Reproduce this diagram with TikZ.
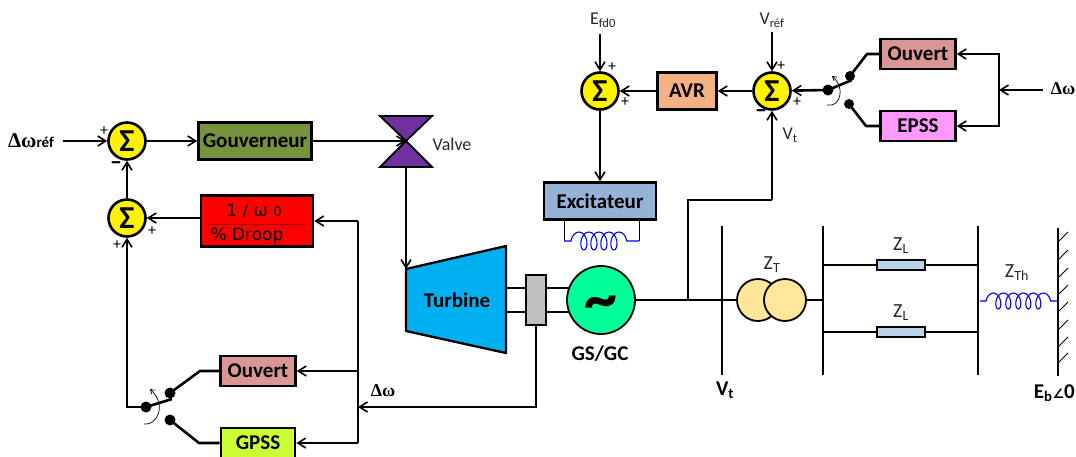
\documentclass[tikz,border=0pt]{standalone}
\usepackage{fontspec}
\setmainfont{Carlito}
\newfontfamily\greekfont{Liberation Serif}
\newfontfamily\anglefont{DejaVu Sans}
\usetikzlibrary{arrows.meta,calc,positioning,shapes,decorations.pathmorphing}
\definecolor{govcolor}{HTML}{76923C}
\definecolor{opencolor}{HTML}{D99694}
\definecolor{avrcolor}{HTML}{F4B183}
\definecolor{epsscolor}{HTML}{FF99FF}
\definecolor{gpsscolor}{HTML}{CCFF33}
\definecolor{exccolor}{HTML}{95B3D7}
\definecolor{turbcolor}{HTML}{00B0F0}
\definecolor{gencolor}{HTML}{00FF99}
\definecolor{tfcolor}{HTML}{FFE699}
\definecolor{linecolor}{HTML}{B9D3EC}
\definecolor{valvecolor}{HTML}{7030A0}
\newcommand{\dw}{{\greekfont\bfseries Δω}}
\tikzset{
	box/.style={draw, line width=2.6pt, inner sep=0pt, font=\fontsize{21}{22}\selectfont\bfseries},
	sumnode/.style={circle, draw, fill=yellow, line width=2.6pt, minimum size=37pt, inner sep=0pt, font=\fontsize{32}{32}\selectfont\bfseries},
	signlabel/.style={inner sep=0pt, font=\fontsize{16}{16}\selectfont},
	minuslabel/.style={inner sep=0pt, font=\fontsize{24}{24}\selectfont\bfseries},
	txt/.style={inner sep=0pt, font=\fontsize{18}{20}\selectfont, text=black!85},
	ztxt/.style={inner sep=0pt, font=\fontsize{20}{20}\selectfont, text=black!85},
	boldtxt/.style={inner sep=0pt, font=\fontsize{21}{22}\selectfont\bfseries},
	contact/.style={circle, fill=black, inner sep=0pt, minimum size=11pt},
	wire/.style={line width=2.6pt},
	flow/.style={line width=2.6pt, -{Straight Barb[length=8pt,width=10pt,line width=1.6pt]}},
	thinwire/.style={line width=1.7pt},
	tfnode/.style={circle, draw, fill=tfcolor, line width=1.8pt, minimum size=42pt},
	zbox/.style={draw, fill=linecolor, line width=1.8pt, minimum width=48pt, minimum height=10pt, inner sep=0pt},
	coilwire/.style={blue, line width=1.1pt, decorate, decoration={coil, aspect=0.6, amplitude=9pt, segment length=10pt}},
	spin/.style={line width=0.7pt, -{Straight Barb[length=4pt,width=5pt]}}
}
\begin{document}
\begin{tikzpicture}[x=1pt,y=-1pt]
	\useasboundingbox (0,0) rectangle (1076,456);
	% Place nodes
	\node [sumnode] (sumgov) at (127,141) {Σ};
	\node [sumnode] (sumdroop) at (127,218) {Σ};
	\node [sumnode] (sumfd) at (600,91) {Σ};
	\node [sumnode] (sumvref) at (772,91) {Σ};
	\node [box, fill=govcolor, minimum width=113pt, minimum height=37pt] (gouverneur) at (255,141) {Gouverneur};
	\node [box, fill=red, minimum width=112pt, minimum height=51pt] (droop) at (257,221) {};
	\node [box, fill=opencolor, minimum width=75pt, minimum height=30pt] (ouvertg) at (258,371) {Ouvert};
	\node [box, fill=gpsscolor, minimum width=74pt, minimum height=30pt] (gpss) at (258,443) {GPSS};
	\node [box, fill=opencolor, minimum width=75pt, minimum height=30pt] (ouverte) at (918,54) {Ouvert};
	\node [box, fill=epsscolor, minimum width=75pt, minimum height=30pt] (epss) at (918,126) {EPSS};
	\node [box, fill=avrcolor, minimum width=59pt, minimum height=37pt] (avr) at (687,91) {AVR};
	\node [box, fill=exccolor, minimum width=112pt, minimum height=37pt] (excitateur) at (600,201) {Excitateur};
	\node [box, fill=black!25, minimum width=20pt, minimum height=50pt] (coupling) at (536,300) {};
	\node [circle, draw, fill=gencolor, line width=1.8pt, minimum size=68pt, inner sep=0pt] (gen) at (601,300) {};
	\node [anchor=base, inner sep=0pt, font=\fontsize{66}{66}\selectfont\bfseries] (tilde) at (601,320) {\textasciitilde};
	\node [tfnode] (tfa) at (758,300) {};
	\node [tfnode] (tfb) at (785,300) {};
	\node [zbox] (zlup) at (901,265) {};
	\node [zbox] (zldown) at (901,332) {};
	% Switch contacts
	\node [contact] (polegov) at (146,407) {};
	\node [contact] (congova) at (170,393) {};
	\node [contact] (congovb) at (170,420) {};
	\node [contact] (poleexc) at (828,90) {};
	\node [contact, minimum size=10pt] (conexca) at (850,76) {};
	\node [contact, minimum size=10pt] (conexcb) at (849,104) {};
	% Texts
	\node [inner sep=0pt, font=\fontsize{21}{21}\selectfont] (dwref) at (31,141) {\dw{\fontsize{15}{15}\selectfont\bfseries réf}};
	\node [inner sep=0pt, font=\fontsize{18}{18}\selectfont] (dwgov) at (383,391) {\dw};
	\node [inner sep=0pt, font=\fontsize{18}{18}\selectfont] (dwexc) at (1063,89) {\dw};
	\node [txt] (valvetxt) at (452,144) {Valve};
	\node [txt] (efd) at (603,20) {E\textsubscript{fd0}};
	\node [txt] (vref) at (772,20) {V\textsubscript{réf}};
	\node [txt] (vtup) at (790,135) {V\textsubscript{t}};
	\node [ztxt] (zt) at (772,265) {Z\textsubscript{T}};
	\node [ztxt] (ztop) at (901,246) {Z\textsubscript{L}};
	\node [ztxt] (zbot) at (901,313) {Z\textsubscript{L}};
	\node [ztxt] (zth) at (1017,273) {Z\textsubscript{Th}};
	\node [boldtxt] (ggc) at (600,354) {GS/GC};
	\node [boldtxt] (vtbus) at (725,390) {V\textsubscript{t}};
	\node [boldtxt, anchor=east] (ebus) at (1075,393) {E\textsubscript{b}{\anglefont\bfseries\fontsize{13}{13}\selectfont ∠}0};
	\node [inner sep=0pt, font=\fontsize{17}{20}\selectfont\anglefont] (droopnum) at (254,211) {1 / ω {\fontsize{13}{13}\selectfont 0}};
	\node [inner sep=0pt, font=\fontsize{17}{20}\selectfont\anglefont] (droopden) at (247,236) {\% Droop};
	\draw [red!60!black, line width=1pt] ($(droop.west)+(9,3)$) -- ($(droop.east)+(-9,3)$);
	% Signs
	\node [signlabel] (sa) at (104,131) {+};
	\node [minuslabel] (sb) at (116,166) {–};
	\node [signlabel] (sc) at (152,231) {+};
	\node [signlabel] (sd) at (117,245) {+};
	\node [signlabel] (se) at (612,67) {+};
	\node [signlabel] (sf) at (625,102) {+};
	\node [signlabel] (sg) at (781,66) {+};
	\node [signlabel] (sh) at (797,102) {+};
	\node [minuslabel] (si) at (761,114) {–};
	% Turbine and valve
	\coordinate (tnw) at (406,269);
	\coordinate (tne) at (506,246);
	\coordinate (tse) at (506,353);
	\coordinate (tsw) at (406,331);
	\draw [fill=turbcolor, line width=2.3pt, line join=round] (tnw) -- (tne) -- (tse) -- (tsw) -- cycle;
	\node [boldtxt] (turbine) at (457,300) {Turbine};
	\coordinate (valve) at (406,141);
	\coordinate (valvebot) at (406,167);
	\draw [fill=valvecolor, line width=1.8pt] (380,116) -- (432,116) -- (valve) -- (432,167) -- (380,167) -- (valve) -- cycle;
	% Draw edges
	\coordinate (dwreftail) at (63,141);
	\draw [flow] (dwreftail) -- (sumgov.west |- dwreftail);
	\draw [flow] (sumgov.east) -- (gouverneur.west);
	\draw [flow] (gouverneur.east) -- (valve);
	\draw [flow] (sumdroop) -- (sumgov);
	\draw [flow] (droop.west |- sumdroop) -- (sumdroop);
	\draw [flow] (valvebot) -- (tnw);
	% Governor feedback
	\coordinate (fbtop) at (358,221);
	\coordinate (fbmid) at (358,407);
	\coordinate (fbbot) at (358,443);
	\draw [flow] (fbtop) -- (droop.east |- fbtop);
	\draw [wire] (fbtop) -- (fbbot);
	\draw [flow] (fbtop |- ouvertg) -- (ouvertg);
	\draw [flow] (fbbot) -- (gpss.east |- fbbot);
	\draw [flow] (coupling.south) |- (fbmid);
	\draw [flow] (polegov.center) -| (sumdroop.south);
	\draw [wire, line join=round] (congova.center) -- (200,371) -- (ouvertg.west |- ouvertg);
	\draw [wire, line join=round] (congovb.center) -- (199,443) -- (gpss.west |- fbbot);
	\draw [wire] (polegov.center) -- (172,399);
	\draw [spin] (144,424) .. controls (156,426) and (168,406) .. (150,389);
	% Shaft and generator
	\draw [thinwire] (tne |- 0,288) -- (coupling.west |- 0,288);
	\draw [thinwire] (tne |- 0,312) -- (coupling.west |- 0,312);
	\draw [thinwire] (coupling.east |- 0,288) -- (569,288);
	\draw [thinwire] (coupling.east |- 0,312) -- (569,312);
	% Excitation
	\coordinate (efdtail) at (600,34);
	\coordinate (vreftail) at (772,32);
	\draw [flow] (efdtail) -- (sumfd);
	\draw [flow] (vreftail) -- (sumvref);
	\draw [flow] (sumfd) -- (excitateur.north);
	\draw [flow] (avr) -- (sumfd);
	\draw [flow] (sumvref) -- (avr);
	\draw [flow] (poleexc.center) -- (sumvref);
	\draw [wire] (poleexc.center) -- (852,80);
	\draw [wire, line join=round] (conexca.center) -- (867,54) -- (ouverte.west);
	\draw [wire, line join=round] (conexcb.center) -- (866,126) -- (epss.west);
	\draw [spin] (827,105) .. controls (840,108) and (846,88) .. (832,76);
	\coordinate (dwexctail) at (1043,90);
	\coordinate (stabnode) at (999,90);
	\draw [flow] (dwexctail) -- (stabnode);
	\draw [flow] (stabnode) |- (ouverte.east);
	\draw [flow] (stabnode) |- (epss.east);
	% Exciter winding
	\coordinate (wla) at (564,241);
	\coordinate (wrb) at (639,241);
	\draw [line width=1pt] (wla |- excitateur.south) -- (wla);
	\draw [line width=1pt] (wrb |- excitateur.south) -- (wrb);
	\draw [coilwire, decoration={pre length=7pt, post length=7pt}] (wla) -- (wrb);
	% Network
	\coordinate (junction) at (688,300);
	\coordinate (vtbend) at (772,200);
	\draw [thinwire] (gen.east) -- (tfa.west);
	\draw [wire] (junction) |- (vtbend);
	\draw [flow] (vtbend) -- (sumvref.south);
	\coordinate (busa) at (722,226);
	\coordinate (busb) at (823,226);
	\coordinate (busc) at (978,226);
	\coordinate (wall) at (1058,228);
	\draw [wire] (busa) -- +(0,149);
	\draw [wire] (busb) -- +(0,149);
	\draw [wire] (busc) -- +(0,149);
	\draw [wire] (wall) -- +(0,148);
	\draw [wire] (tfb.east) -- (busb |- tfb);
	\draw [thinwire] (busb |- zlup) -- (zlup.west);
	\draw [thinwire] (zlup.east) -- (busc |- zlup);
	\draw [thinwire] (busb |- zldown) -- (zldown.west);
	\draw [thinwire] (zldown.east) -- (busc |- zldown);
	\coordinate (tha) at (980,301);
	\coordinate (thd) at (1057,301);
	\draw [coilwire, decoration={amplitude=8pt, segment length=10pt, pre length=6pt, post length=6pt}] (tha) -- (thd);
	% Hatching
	\foreach \y in {242,260,278,295,312,330,347,363}
		\draw [line width=0.8pt] (wall |- 0,\y) -- +(10,-10);
\end{tikzpicture}
\end{document}
